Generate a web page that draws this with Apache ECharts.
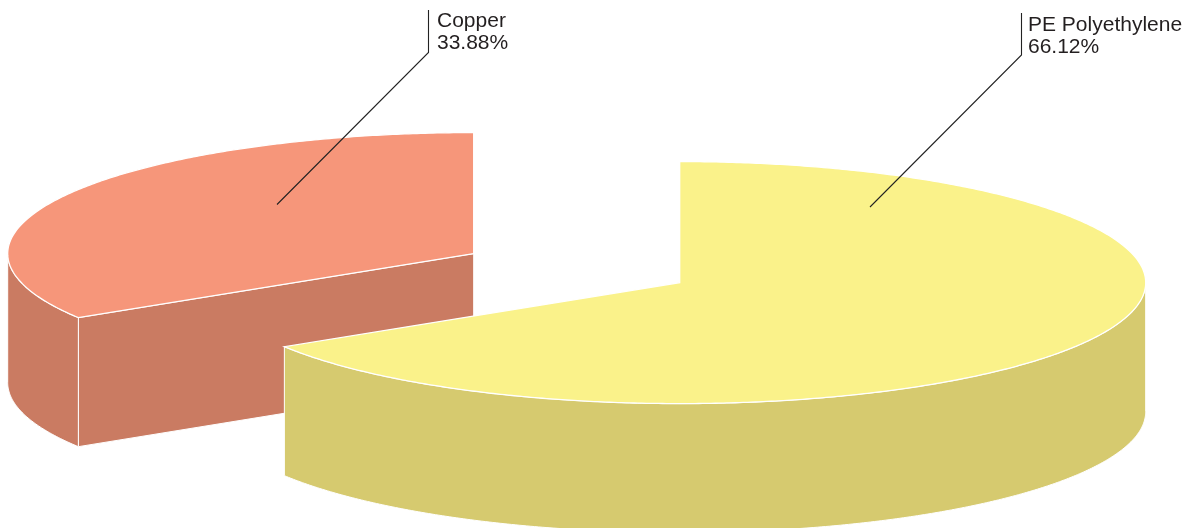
<!DOCTYPE html>
<html>
<head>
<meta charset="utf-8">
<style>html,body{margin:0;padding:0;background:#fff}#chart{width:1186px;height:528px}</style>
<script src="https://cdn.jsdelivr.net/npm/echarts@6/dist/echarts.min.js"></script>
</head>
<body>
<div id="chart"></div>
<script>
// Data, in clockwise slice order from 12 o'clock
var categories = ['PE Polyethylene', 'Copper'];
var shares = [66.12, 33.88];

// Layout and style, per slice
var centers = [[679.7, 282.6], [473.7, 253.6]];
var topColors = ['#FAF28A', '#F6967A'];
var wallColors = ['#D6CA6F', '#CA7B62'];
var leaders = [
  [[870, 207], [1021.5, 55], [1021.5, 13]],
  [[277, 204.5], [428.5, 52.5], [428.5, 10]]
];
var labelAnchors = [[1028, 14.5], [437, 10]];
var RX = 466, RY = 121, DEPTH = 129;

function arc(c, from, to, dy) {
  var pts = [], n = Math.max(1, Math.ceil(Math.abs(to - from) * 2));
  for (var i = 0; i <= n; i++) {
    var t = (from + (to - from) * i / n) * Math.PI / 180;
    pts.push([c[0] + RX * Math.sin(t), c[1] - RY * Math.cos(t) + dy]);
  }
  return pts;
}

function poly(points, fill, z2, lw) {
  return {
    type: 'polygon', z2: z2, shape: { points: points },
    style: { fill: fill, stroke: '#ffffff', lineWidth: lw, lineJoin: 'miter' }
  };
}

function renderSlice(params, api) {
  var i = params.dataIndex, total = 0, before = 0;
  shares.forEach(function (v, k) { total += v; if (k < i) before += v; });
  var value = api.value(0);
  var a = before / total * 360, b = (before + value) / total * 360;
  var c = centers[i], base = i === 0 ? 10 : 0;
  var children = [];
  var wall = wallColors[i];

  function cut(angle) {
    var p = arc(c, angle, angle, 0)[0];
    children.push(poly([c, p, [p[0], p[1] + DEPTH], [c[0], c[1] + DEPTH]], wall, base + 1, 1));
  }
  if (Math.sin(a * Math.PI / 180) < -1e-6) cut(a);
  if (Math.sin(b * Math.PI / 180) > 1e-6) cut(b);

  var from = Math.max(a, 90), to = Math.min(b, 270);
  if (to > from) {
    var upper = arc(c, from, to, 0), lower = arc(c, to, from, DEPTH);
    children.push(poly(upper.concat(lower), wall, base + 2, 1));
  }
  children.push(poly([c].concat(arc(c, a, b, 0)), topColors[i], base + 3, 1.3));

  children.push({
    type: 'polyline', z2: 30, shape: { points: leaders[i] },
    style: { fill: null, stroke: '#222222', lineWidth: 1.1 }
  });
  children.push({
    type: 'text', z2: 31,
    style: {
      x: labelAnchors[i][0], y: labelAnchors[i][1],
      text: categories[i] + '\n' + value.toFixed(2) + '%',
      fontFamily: '"Liberation Sans", Arial, sans-serif',
      fontSize: 21, lineHeight: 22, fill: '#231F20',
      align: 'left', verticalAlign: 'top'
    }
  });
  return { type: 'group', children: children };
}

var chart = echarts.init(document.getElementById('chart'), null, { renderer: 'canvas' });
chart.setOption({
  animation: false,
  backgroundColor: '#ffffff',
  series: [{
    type: 'custom',
    coordinateSystem: 'none',
    silent: true,
    clip: false,
    renderItem: renderSlice,
    data: categories.map(function (n, i) { return { name: n, value: [shares[i]] }; })
  }]
});
</script>
</body>
</html>
